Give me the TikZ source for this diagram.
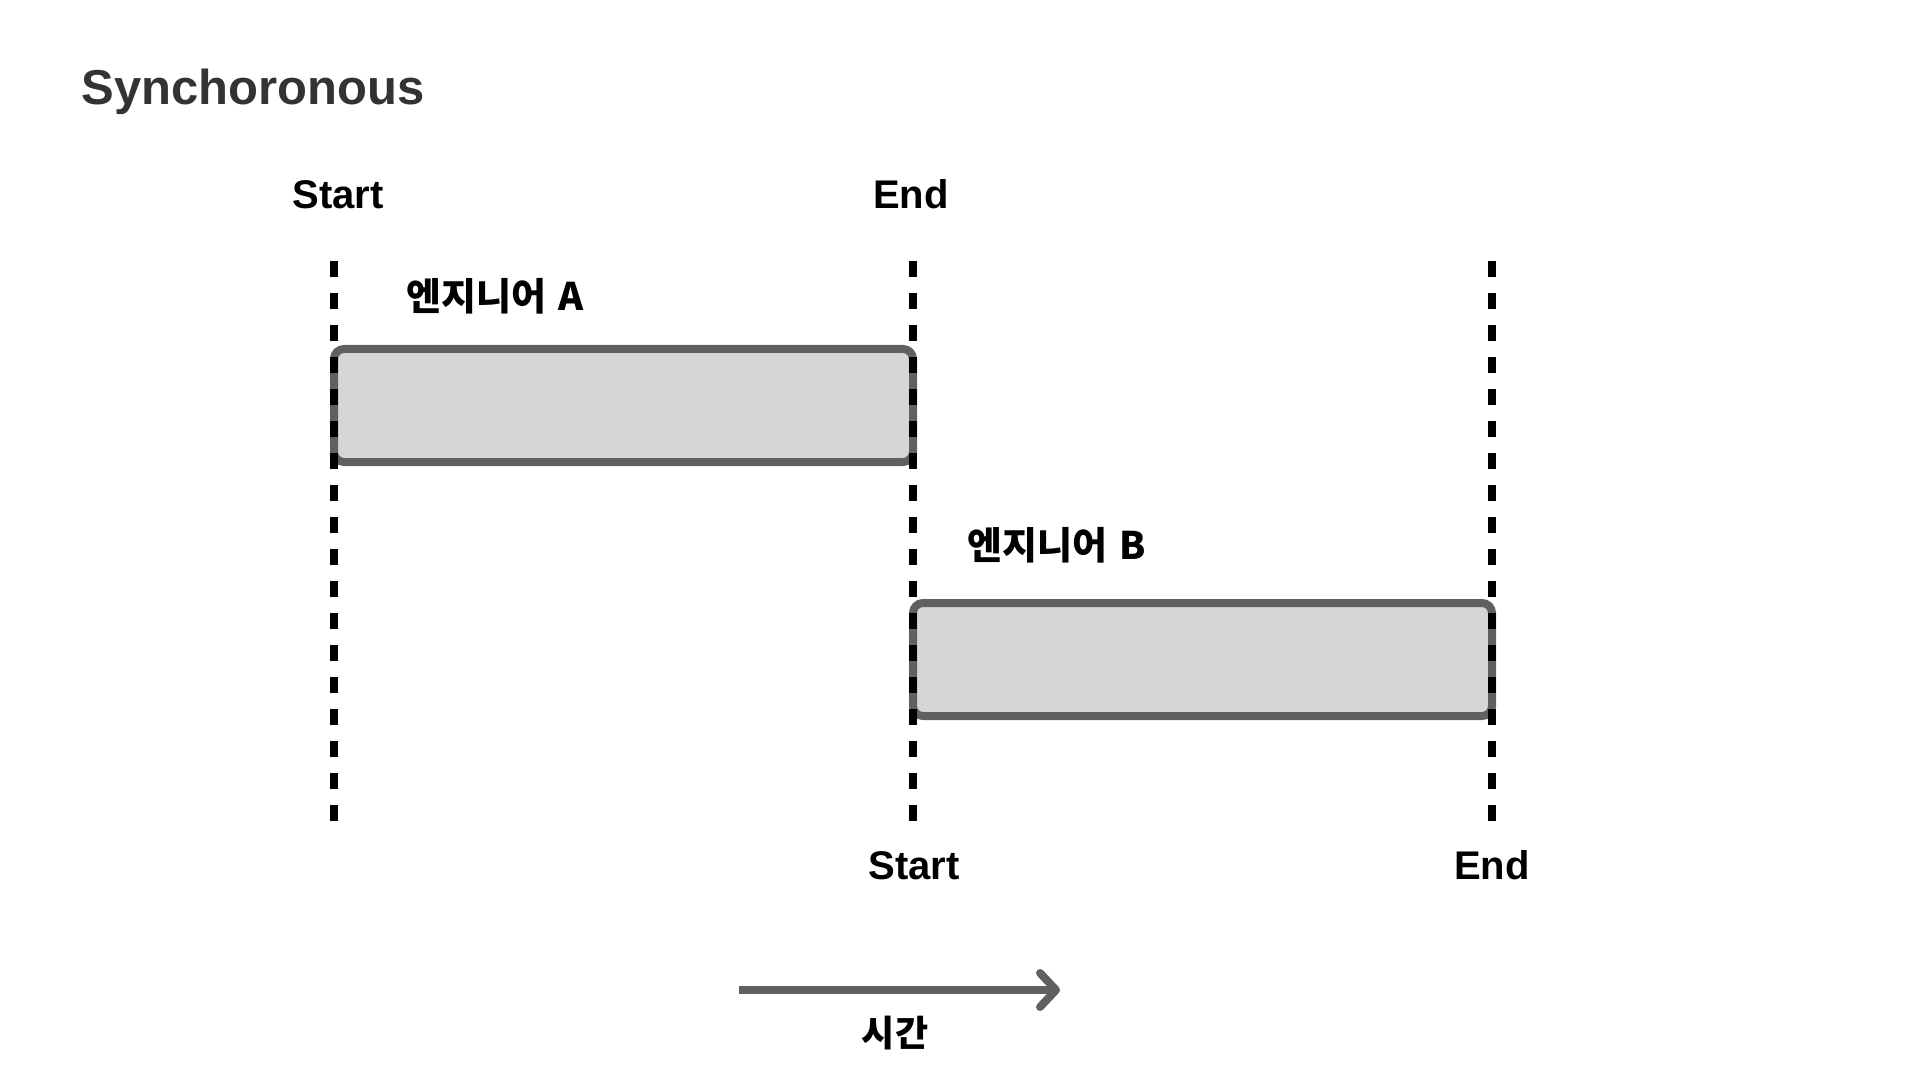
\documentclass[tikz,border=0pt]{standalone}
\usepackage{fontspec}
\setmainfont{Liberation Sans}
\newfontfamily\kofont{Noto Sans CJK KR}
\usetikzlibrary{arrows.meta}
\definecolor{boxline}{HTML}{606060}
\definecolor{boxfill}{HTML}{D6D6D6}
\definecolor{titlegray}{HTML}{333333}
\tikzset{
  timeline/.style={line width=4pt, dash pattern=on 8pt off 8pt},
  taskbox/.style={line width=4pt, draw=boxline, fill=boxfill, rounded corners=5pt},
  marklabel/.style={inner sep=0pt, anchor=base, font=\bfseries\fontsize{20}{24}\selectfont},
  tasklabel/.style={inner sep=0pt, anchor=base west, font=\kofont\bfseries\fontsize{19}{23}\selectfont},
}
\begin{document}
\begin{tikzpicture}[x=0.5pt, y=-0.5pt]
    \useasboundingbox (0,0) rectangle (1920,1080);

    % Define time marks
    \coordinate (T0) at (334,261); \coordinate (T1) at (913,261); \coordinate (T2) at (1492,261);
    \coordinate (B0) at (334,821); \coordinate (B1) at (913,821); \coordinate (B2) at (1492,821);
    \coordinate (A1) at (334,349); \coordinate (A2) at (913,462);
    \coordinate (C1) at (913,603); \coordinate (C2) at (1492,716);

    % Draw task boxes
    \draw[taskbox] (A1) rectangle (A2);
    \draw[taskbox] (C1) rectangle (C2);

    % Draw time lines
    \draw[timeline] (T0)--(B0);
    \draw[timeline] (T1)--(B1);
    \draw[timeline] (T2)--(B2);

    % Add labels
    \node[inner sep=0pt, anchor=base west, text=titlegray, font=\bfseries\fontsize{24.5}{28}\selectfont] (title) at (81,105) {Synchoronous};
    \node[marklabel] (startA) at (338,209) {Start};
    \node[marklabel] (endA) at (911,209) {End};
    \node[marklabel] (startB) at (914,879) {Start};
    \node[marklabel] (endB) at (1492,879) {End};
    \node[tasklabel] (labelA) at (406,311) {엔지니어\hspace{2pt} A};
    \node[tasklabel] (labelB) at (967,559) {엔지니어\hspace{2pt} B};

    % Draw time arrow
    \coordinate (t0) at (739,990); \coordinate (t1) at (1060,990);
    \draw[line width=4pt, boxline, -{Straight Barb[length=8pt, width=17pt, round]}] (t0)--(t1);
    \node[inner sep=0pt, anchor=base, font=\kofont\bfseries\fontsize{18}{21}\selectfont] (timelabel) at (895,1046) {시간};

  \end{tikzpicture}
\end{document}
